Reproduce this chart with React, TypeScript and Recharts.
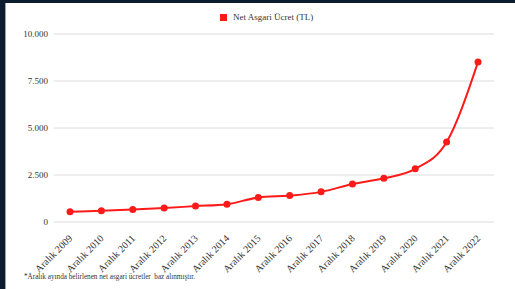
import React from "react";
import { LineChart, Line, XAxis, YAxis, CartesianGrid } from "recharts";

const categories = [
  "Aralık 2009", "Aralık 2010", "Aralık 2011", "Aralık 2012", "Aralık 2013",
  "Aralık 2014", "Aralık 2015", "Aralık 2016", "Aralık 2017", "Aralık 2018",
  "Aralık 2019", "Aralık 2020", "Aralık 2021", "Aralık 2022",
];
const netWage = [546.48, 599.12, 658.95, 739.79, 846.0, 949.07, 1300.99, 1404.06, 1603.12, 2020.9, 2324.7, 2825.9, 4253.4, 8506.8];
const yTicks = [0, 2500, 5000, 7500, 10000];
const yTickLabels = ["0", "2.500", "5.000", "7.500", "10.000"];
const seriesName = "Net Asgari Ücret (TL)";
const footnote = "*Aralık ayında belirlenen net asgari ücretler  baz alınmıştır.";

const data = categories.map((c, i) => ({ name: c, value: netWage[i] }));

const FONT = "Liberation Serif, Times New Roman, serif";

const XTick = (props: any) => {
  const { x, y, payload } = props;
  const ax = x + 3;
  const ay = y + 9;
  return (
    <text
      x={ax}
      y={ay}
      transform={`rotate(-45, ${ax}, ${ay})`}
      textAnchor="end"
      fontSize={10}
      fontFamily={FONT}
      fill="#333"
    >
      {payload.value}
    </text>
  );
};

const YTick = (props: any) => {
  const { y, payload } = props;
  const idx = yTicks.indexOf(payload.value);
  return (
    <text x={48} y={y} dy={3} textAnchor="end" fontSize={9} fontFamily={FONT} fill="#333">
      {idx >= 0 ? yTickLabels[idx] : payload.value}
    </text>
  );
};

export default function App() {
  return (
    <div style={{ position: "fixed", left: 0, top: 0, width: 515, height: 289, background: "#0b1d2e", fontFamily: FONT }}>
      <div style={{ position: "absolute", left: 5, top: 3, width: 510, height: 286, background: "#fff", borderLeft: "1px solid #9aa3ad", boxSizing: "border-box" }} />
      <div style={{ position: "absolute", left: 0, top: 0 }}>
        <LineChart width={515} height={289} data={data} margin={{ top: 34, right: 21, bottom: 7, left: 0 }}>
          <CartesianGrid vertical={false} stroke="#dcdcdc" strokeWidth={1} />
          <XAxis
            dataKey="name"
            axisLine={false}
            tickLine={false}
            interval={0}
            height={60}
            padding={{ left: 16, right: 16 }}
            tick={<XTick />}
          />
          <YAxis
            width={54}
            domain={[0, 10000]}
            ticks={yTicks}
            axisLine={false}
            tickLine={false}
            tick={<YTick />}
          />
          <Line
            type="monotone"
            dataKey="value"
            name={seriesName}
            stroke="#ff1a1a"
            strokeWidth={2}
            dot={{ r: 3.5, fill: "#ff1a1a", stroke: "#ff1a1a", strokeWidth: 0 }}
            isAnimationActive={false}
          />
        </LineChart>
      </div>
      <div style={{ position: "absolute", left: 220, top: 12, display: "flex", alignItems: "center", fontFamily: FONT, fontSize: 9, color: "#333", whiteSpace: "nowrap" }}>
        <span style={{ display: "inline-block", width: 7, height: 7, background: "#ff1a1a", marginRight: 6 }} />
        <span>{seriesName}</span>
      </div>
      <div style={{ position: "absolute", left: 24, top: 273, fontFamily: FONT, fontSize: 7.2, color: "#333", whiteSpace: "pre" }}>
        {footnote}
      </div>
    </div>
  );
}
